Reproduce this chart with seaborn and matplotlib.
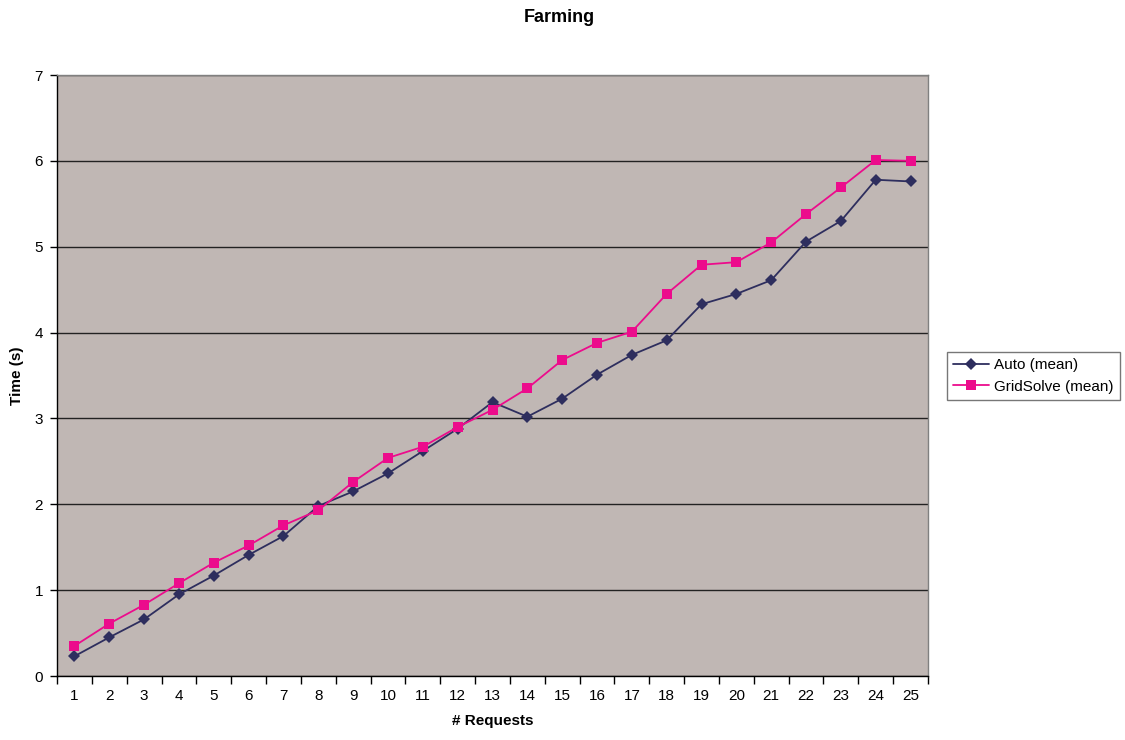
import numpy as np
import pandas as pd
import matplotlib
matplotlib.use("Agg")
import matplotlib.pyplot as plt
import seaborn as sns

# data
requests = list(range(1, 26))
auto_mean = [0.23, 0.45, 0.66, 0.95, 1.17, 1.41, 1.63, 1.98, 2.15, 2.36,
             2.62, 2.88, 3.19, 3.02, 3.23, 3.51, 3.74, 3.91, 4.33, 4.45,
             4.61, 5.06, 5.30, 5.78, 5.76]
gridsolve_mean = [0.35, 0.61, 0.83, 1.08, 1.32, 1.52, 1.755, 1.93, 2.26, 2.54,
                  2.67, 2.90, 3.10, 3.35, 3.68, 3.88, 4.01, 4.45, 4.79, 4.82,
                  5.05, 5.38, 5.69, 6.01, 6.00]
series_names = ["Auto (mean)", "GridSolve (mean)"]
y_ticks = [0, 1, 2, 3, 4, 5, 6, 7]

df = pd.DataFrame({
    "requests": requests * 2,
    "time": auto_mean + gridsolve_mean,
    "series": [series_names[0]] * len(requests) + [series_names[1]] * len(requests),
})

sns.set_style("white")
plt.rcParams["font.family"] = ["Liberation Sans", "DejaVu Sans"]
plt.rcParams["text.color"] = "black"
plt.rcParams["axes.labelcolor"] = "black"
plt.rcParams["xtick.color"] = "black"
plt.rcParams["ytick.color"] = "black"

fig = plt.figure(figsize=(11.25, 7.4), dpi=100)
ax = fig.add_axes([57 / 1125, 64 / 740, (928 - 57) / 1125, (676 - 75) / 740])
ax.set_facecolor("#c0b7b4")

sns.lineplot(data=df, x="requests", y="time", hue="series", style="series",
             palette={series_names[0]: "#2e2e5e", series_names[1]: "#ec0c8c"},
             markers={series_names[0]: "D", series_names[1]: "s"},
             dashes=False, markersize=6.5, linewidth=1.3, markeredgewidth=0,
             ax=ax)
# squares a touch bigger, as in the original
for line in ax.get_lines():
    if line.get_marker() == "s":
        line.set_markersize(7.5)

ax.set_xlim(0.5, 25.5)
ax.set_ylim(0, 7)
ax.set_yticks(y_ticks)
ax.set_xticks(requests)
ax.set_xticks(np.arange(0.5, 26, 1), minor=True)
ax.tick_params(axis="x", which="major", bottom=True, length=0, pad=9, labelsize=11)
ax.tick_params(axis="x", which="minor", bottom=True, length=6, width=1,
               color="#000000", direction="out")
ax.tick_params(axis="y", left=True, length=5, width=1, color="#000000",
               direction="out", labelsize=11, pad=5)
ax.grid(axis="y", color="#222222", linewidth=1)
ax.set_axisbelow(True)

for side in ["top", "right"]:
    ax.spines[side].set_color("#808080")
    ax.spines[side].set_linewidth(1)
for side in ["left", "bottom"]:
    ax.spines[side].set_color("#000000")
    ax.spines[side].set_linewidth(1)

ax.set_xlabel("# Requests", fontsize=11, fontweight="bold", labelpad=8)
ax.set_ylabel("Time (s)", fontsize=11, fontweight="bold", labelpad=8)
fig.text(559 / 1125, 1 - 17 / 740, "Farming", ha="center", va="center",
         fontsize=13, fontweight="bold")

ax.legend(loc="center left", bbox_to_anchor=(939 / 1125, 1 - 376 / 740),
          bbox_transform=fig.transFigure, frameon=True, fancybox=False,
          edgecolor="#555555", fontsize=11, handlelength=2.4,
          borderpad=0.4, labelspacing=0.5, handletextpad=0.3)

plt.savefig("out.png", dpi=100)
plt.close()
